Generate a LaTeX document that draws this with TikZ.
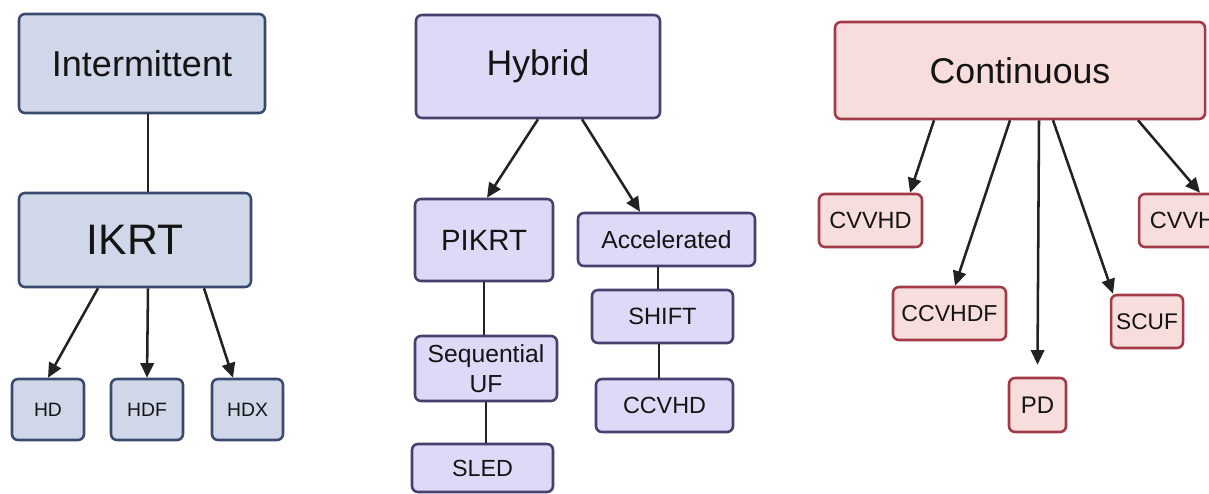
\documentclass[tikz,border=0pt]{standalone}
\usepackage{fontspec}
\setmainfont{Liberation Sans}
\usetikzlibrary{arrows.meta}
\definecolor{ifill}{HTML}{D0D7E8}
\definecolor{iline}{HTML}{3A4A6E}
\definecolor{hfill}{HTML}{DDD9F6}
\definecolor{hline}{HTML}{45416F}
\definecolor{cfill}{HTML}{F8DDDD}
\definecolor{cline}{HTML}{A23A48}
\definecolor{txt}{HTML}{141414}
\definecolor{conn}{HTML}{222222}
\tikzset{
  base/.style={rectangle, rounded corners=4.5pt, line width=1.9pt, inner sep=0pt, align=center, text=txt},
  ibox/.style={base, fill=ifill, draw=iline},
  hbox/.style={base, fill=hfill, draw=hline},
  cbox/.style={base, fill=cfill, draw=cline},
  link/.style={draw=conn, line width=1.9pt},
  arr/.style={link, -{Triangle[length=11pt,width=10pt]}},
}
\begin{document}
\begin{tikzpicture}[x=0.75pt,y=-0.75pt]
\useasboundingbox (0,0) rectangle (1209,493);
\clip (0,0) rectangle (1209,493);
% Intermittent group
\node[ibox, minimum width=184.5pt, minimum height=74.25pt, font=\fontsize{27}{30}\selectfont] (inter) at (142,63.5) {Intermittent};
\node[ibox, minimum width=174pt, minimum height=70.5pt, font=\fontsize{32}{36}\selectfont] (ikrt) at (135,240) {IKRT};
\node[ibox, minimum width=54pt, minimum height=45.75pt, font=\fontsize{14.5}{17}\selectfont] (hd) at (48,409.5) {HD};
\node[ibox, minimum width=54pt, minimum height=45.75pt, font=\fontsize{14.5}{17}\selectfont] (hdf) at (147,409.5) {HDF};
\node[ibox, minimum width=53.25pt, minimum height=45.75pt, font=\fontsize{14.5}{17}\selectfont] (hdx) at (247.5,409.5) {HDX};
\draw[link] ([xshift=4.5pt]inter.south) -- ([xshift=9.75pt]ikrt.north);
\draw[arr] ([xshift=-27.75pt]ikrt.south) -- (hd.north);
\draw[arr] ([xshift=9.75pt]ikrt.south) -- (hdf.north);
\draw[arr] ([xshift=51.75pt]ikrt.south) -- ([xshift=-10.875pt]hdx.north);
% Hybrid group
\node[hbox, minimum width=183pt, minimum height=77.25pt, font=\fontsize{26.7}{30}\selectfont] (hyb) at (538,66.5) {Hybrid};
\node[hbox, minimum width=103.5pt, minimum height=61.5pt, font=\fontsize{22}{26}\selectfont] (pikrt) at (484,240) {PIKRT};
\node[hbox, minimum width=132.75pt, minimum height=39.75pt, font=\fontsize{18.5}{22}\selectfont] (acc) at (666.5,239.5) {Accelerated};
\node[hbox, minimum width=105.75pt, minimum height=39.75pt, font=\fontsize{17.7}{21}\selectfont] (shift) at (662.5,316.5) {SHIFT};
\node[hbox, minimum width=106.5pt, minimum height=48.75pt, font=\fontsize{18.5}{22.5}\selectfont] (seq) at (486,368.5) {Sequential\\UF};
\node[hbox, minimum width=105.75pt, minimum height=36pt, font=\fontsize{17.5}{21}\selectfont] (sled) at (482.5,468) {SLED};
\node[hbox, minimum width=102.75pt, minimum height=39.75pt, font=\fontsize{17.5}{21}\selectfont] (ccvhd) at (664.5,405.5) {CCVHD};
\draw[arr] (hyb.south) -- ([xshift=2.25pt]pikrt.north);
\draw[arr] ([xshift=33pt]hyb.south) -- ([xshift=-19.875pt]acc.north);
\draw[link] (pikrt.south) -- ([xshift=-1.5pt]seq.north);
\draw[link] (seq.south) -- ([xshift=2.625pt]sled.north);
\draw[link] ([xshift=-6.375pt]acc.south) -- ([xshift=-3.375pt]shift.north);
\draw[link] ([xshift=-2.625pt]shift.south) -- ([xshift=-4.125pt]ccvhd.north);
% Continuous group
\node[cbox, minimum width=277.5pt, minimum height=72.75pt, font=\fontsize{26.8}{30}\selectfont] (cont) at (1020,70.5) {Continuous};
\node[cbox, minimum width=77.25pt, minimum height=39.75pt, font=\fontsize{17.6}{21}\selectfont] (cvvhd) at (870.5,220.5) {CVVHD};
\node[cbox, minimum width=84.75pt, minimum height=39.75pt, font=\fontsize{17.3}{21}\selectfont] (ccvhdf) at (949.5,313.5) {CCVHDF};
\node[cbox, minimum width=42.75pt, minimum height=40.5pt, font=\fontsize{18}{21}\selectfont] (pd) at (1037.5,405) {PD};
\node[cbox, minimum width=54pt, minimum height=39.75pt, font=\fontsize{17}{21}\selectfont] (scuf) at (1147,321.5) {SCUF};
\node[cbox, minimum width=65.25pt, minimum height=39.75pt, font=\fontsize{17.6}{21}\selectfont] (cvvh) at (1182.5,220.5) {CVVH};
\draw[arr] ([xshift=-64.5pt]cont.south) -- ([xshift=29.625pt]cvvhd.north);
\draw[arr] ([xshift=-7.5pt]cont.south) -- ([xshift=4.125pt]ccvhdf.north);
\draw[arr] ([xshift=14.25pt]cont.south) -- ([yshift=9pt]pd.north);
\draw[arr] ([xshift=24.75pt]cont.south) -- ([xshift=-25.5pt]scuf.north);
\draw[arr] ([xshift=88.5pt]cont.south) -- ([xshift=13.125pt]cvvh.north);
\end{tikzpicture}
\end{document}
